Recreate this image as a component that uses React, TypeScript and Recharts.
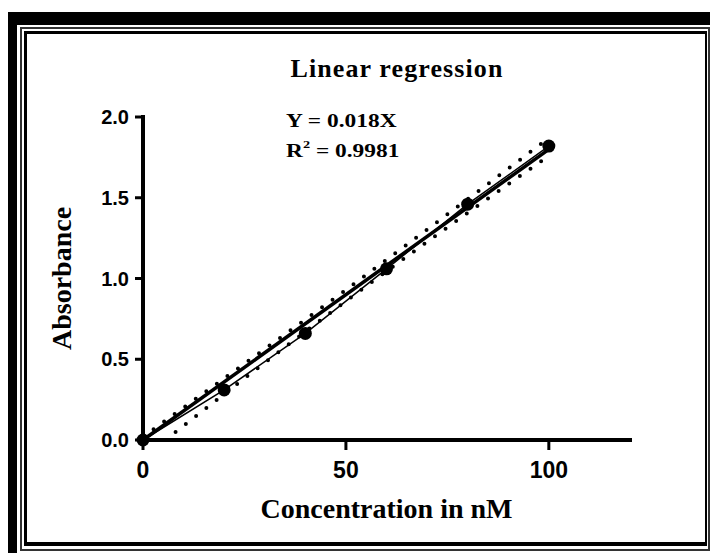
import { ComposedChart, Line, XAxis, YAxis } from 'recharts';

// measured standard points (concentration in nM vs absorbance)
const CONC = [0, 20, 40, 60, 80, 100];
const ABSORBANCE = [0, 0.31, 0.66, 1.06, 1.46, 1.82];

// fitted line Y = 0.018X, drawn between its end points
const FIT_X = [0, 100];
const FIT_Y = [0, 1.8];

// dotted confidence bands
const UPPER_X = [0, 50, 100];
const UPPER_Y = [0.02, 0.93, 1.87];
const LOWER_X = [5.5, 50, 100];
const LOWER_Y = [0, 0.86, 1.76];

const X_TICKS = [0, 50, 100];
const Y_TICKS = [0, 0.5, 1, 1.5, 2];

const toPoints = (xs: number[], ys: number[]) => xs.map((x, i) => ({ x, y: ys[i] }));

const SERIF = "'Liberation Serif', 'Times New Roman', serif";
const SANS = "'Liberation Sans', Arial, sans-serif";

function XTitle(props: any) {
  const vb = props.viewBox || {};
  return (
    <text x={vb.x + vb.width / 2} y={vb.y + 78} textAnchor="middle"
      fontFamily={SERIF} fontWeight="bold" fontSize={28} fill="#000">
      Concentration in nM
    </text>
  );
}

function YTitle(props: any) {
  const vb = props.viewBox || {};
  const cx = vb.x + 71;
  const cy = vb.y + vb.height / 2;
  return (
    <text x={cx} y={cy} transform={`rotate(-90 ${cx} ${cy})`} textAnchor="middle"
      fontFamily={SERIF} fontWeight="bold" fontSize={28} fill="#000">
      Absorbance
    </text>
  );
}

export default function App() {
  const points = toPoints(CONC, ABSORBANCE);
  const fit = toPoints(FIT_X, FIT_Y);
  const upper = toPoints(UPPER_X, UPPER_Y);
  const lower = toPoints(LOWER_X, LOWER_Y);

  return (
    <div style={{ position: 'absolute', left: 0, top: 0, width: 710, height: 553, overflow: 'hidden', background: '#fff' }}>
      {/* frame */}
      <div style={{ position: 'absolute', left: 8, top: 12, width: 720, height: 560, borderLeft: '9px solid #000', borderTop: '13px solid #000', boxSizing: 'border-box' }} />
      <div style={{ position: 'absolute', left: 20, top: 27, width: 690, height: 524, border: '2px solid #333', boxSizing: 'border-box' }} />
      <div style={{ position: 'absolute', left: 24, top: 31, width: 683, height: 515, borderStyle: 'solid', borderColor: '#000', borderWidth: '3px 2px 4px 3px', boxSizing: 'border-box' }} />

      <div style={{ position: 'absolute', left: 0, top: 0 }}>
        <ComposedChart width={710} height={553} margin={{ top: 117, right: 80, bottom: 0, left: 0 }}>
          <XAxis
            type="number" dataKey="x" domain={[0, 120]} ticks={X_TICKS} interval={0} height={113}
            axisLine={{ stroke: '#000', strokeWidth: 4, strokeLinecap: 'square' }}
            tickLine={{ stroke: '#000', strokeWidth: 3 }} tickSize={10} tickMargin={12}
            tick={{ fill: '#000', fontSize: 23, fontWeight: 'bold', fontFamily: SANS }}
            label={<XTitle />}
          />
          <YAxis
            type="number" dataKey="y" domain={[0, 2]} ticks={Y_TICKS} interval={0} width={143}
            axisLine={{ stroke: '#000', strokeWidth: 4, strokeLinecap: 'square' }}
            tickLine={{ stroke: '#000', strokeWidth: 3 }} tickSize={8} tickMargin={6}
            tick={{ fill: '#000', fontSize: 20, fontWeight: 'bold', fontFamily: SANS }}
            tickFormatter={(v: number) => v.toFixed(1)}
            label={<YTitle />}
          />
          <Line data={upper} dataKey="y" type="monotone" stroke="#000" strokeWidth={4} strokeDasharray="0 13"
            strokeLinecap="round" dot={false} activeDot={false} isAnimationActive={false} />
          <Line data={lower} dataKey="y" type="monotone" stroke="#000" strokeWidth={4} strokeDasharray="0 13"
            strokeLinecap="round" dot={false} activeDot={false} isAnimationActive={false} />
          <Line data={fit} dataKey="y" stroke="#000" strokeWidth={3.5} dot={false}
            activeDot={false} isAnimationActive={false} />
          <Line data={points} dataKey="y" stroke="#000" strokeWidth={1.5}
            dot={{ r: 6.5, fill: '#000', stroke: 'none' }} activeDot={false} isAnimationActive={false} />
        </ComposedChart>
      </div>

      {/* title and fit equation */}
      <svg width={710} height={553} style={{ position: 'absolute', left: 0, top: 0, pointerEvents: 'none' }}>
        <text x={397} y={77} textAnchor="middle" fontFamily={SERIF} fontWeight="bold"
          fontSize={26} letterSpacing={1.1} fill="#000">
          Linear regression
        </text>
        <g transform="translate(286 0) scale(1.3 1)" fontFamily={SERIF} fontWeight="bold" fill="#000">
          <text x={0} y={127} fontSize={18}>Y = 0.018X</text>
          <text x={0} y={157} fontSize={18}>
            R<tspan dy={-9} fontSize={11}>2</tspan><tspan dy={9}> = 0.9981</tspan>
          </text>
        </g>
      </svg>
    </div>
  );
}
